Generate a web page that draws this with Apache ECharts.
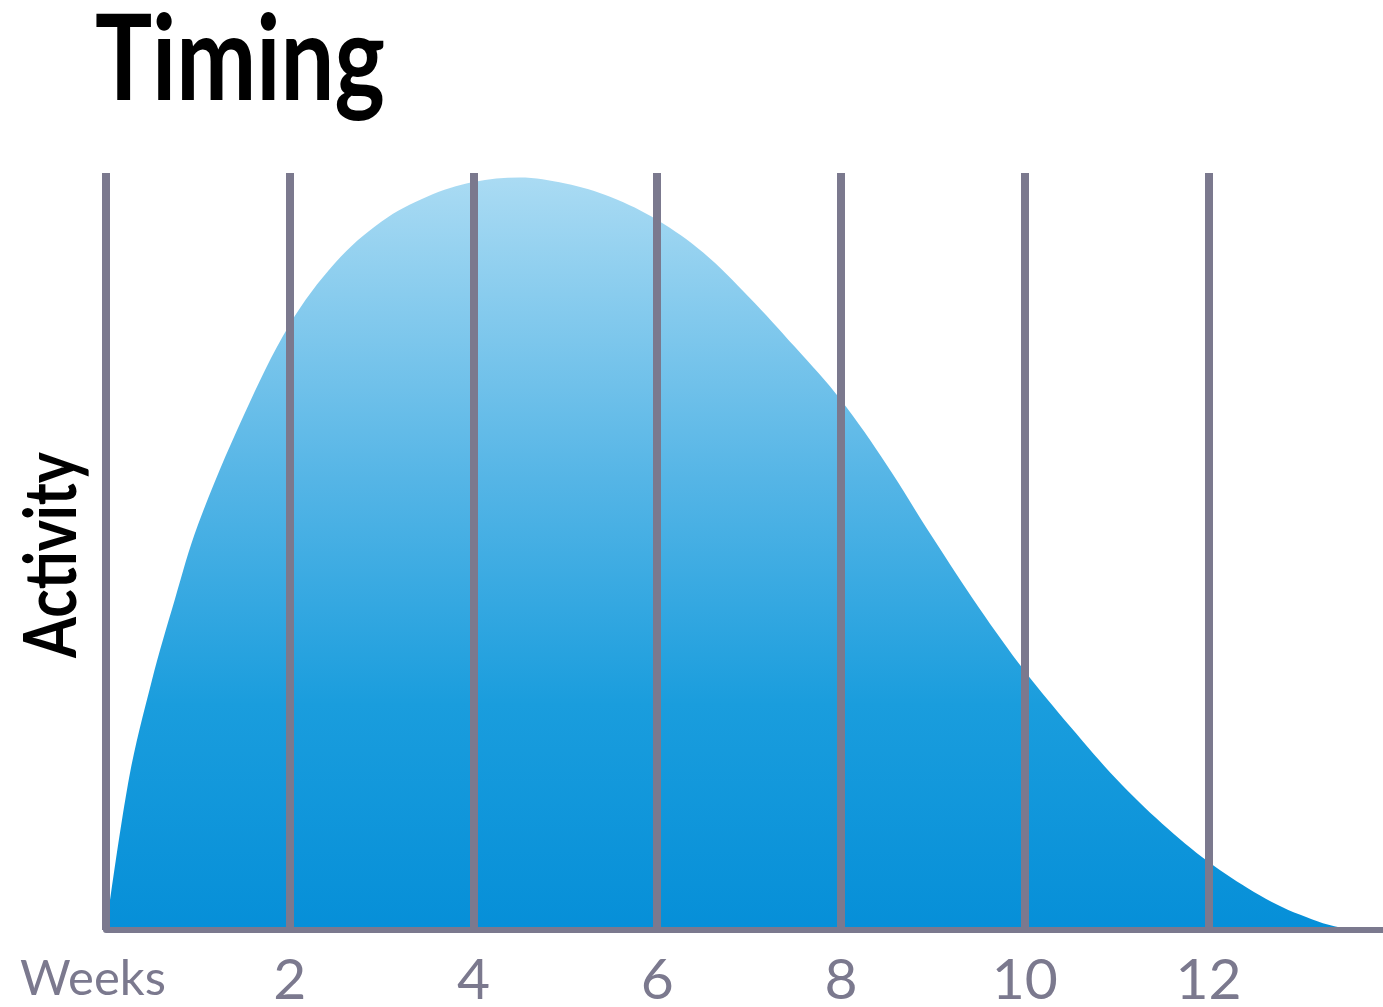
<!DOCTYPE html>
<html>
<head>
<meta charset="utf-8">
<script src="https://cdn.jsdelivr.net/npm/echarts@6/dist/echarts.min.js"></script>
<style>
html,body{margin:0;padding:0;background:#fff;}
#chart{width:1383px;height:1007px;}
</style>
</head>
<body>
<div id="chart"></div>
<script>
// Data
const titleText = 'Timing';
const yAxisName = 'Activity';
const xAxisName = 'Weeks';
const weeks    = [0, 0.25, 0.5, 0.75, 1, 1.5, 2, 2.5, 3, 3.5, 4, 4.5, 5, 5.5, 6, 6.5, 7, 7.5, 8, 8.5, 9, 9.5, 10, 10.5, 11, 11.5, 12, 12.5, 13, 13.5, 13.9];
const activity = [0, 20, 33, 43.7, 53.5, 68, 80, 88.2, 93.6, 96.9, 98.8, 99.4, 98.6, 96.8, 93.8, 89.5, 83.6, 77.0, 70.0, 61.4, 51.8, 42.6, 34.2, 26.8, 19.9, 14.0, 9.0, 5.0, 2.0, 0.2, 0];
const weekTicks = [0, 2, 4, 6, 8, 10, 12];

const gray = '#7b798e';
const chart = echarts.init(document.getElementById('chart'), null, {renderer: 'canvas'});
chart.setOption({
  backgroundColor: '#ffffff',
  animation: false,
  graphic: [
    {
      type: 'text',
      x: 95,
      y: 62,
      scaleX: 0.81,
      style: {
        text: titleText,
        fill: '#000000',
        font: 'bold 118px Lato, sans-serif',
        align: 'left',
        verticalAlign: 'middle'
      }
    },
    {
      type: 'text',
      x: 53,
      y: 555,
      rotation: Math.PI / 2,
      scaleX: 0.82,
      style: {
        text: yAxisName,
        fill: '#000000',
        font: 'bold 72px Lato, sans-serif',
        align: 'center',
        verticalAlign: 'middle'
      }
    }
  ],
  grid: {left: 106, right: 0, top: 173, bottom: 77, containLabel: false, outerBoundsMode: 'none'},
  xAxis: {
    type: 'value',
    min: 0,
    max: 13.9,
    interval: 2,
    z: 10,
    axisLine: {show: true, lineStyle: {color: gray, width: 6}},
    axisTick: {show: false},
    splitLine: {show: true, showMinLine: true, showMaxLine: false, lineStyle: {color: gray, width: 8}},
    axisLabel: {
      margin: 22,
      showMaxLabel: false,
      color: gray,
      fontFamily: 'Lato, sans-serif',
      fontSize: 57,
      formatter: function (v) {
        if (v === 0) return '{w|' + xAxisName + '}';
        return weekTicks.indexOf(v) >= 0 ? String(v) : '';
      },
      rich: {
        w: {color: gray, fontFamily: 'Lato, sans-serif', fontSize: 49, padding: [3, 26, 0, 0]}
      }
    }
  },
  yAxis: {
    type: 'value',
    min: 0,
    max: 100,
    axisLine: {show: false},
    axisTick: {show: false},
    axisLabel: {show: false},
    splitLine: {show: false}
  },
  series: [{
    type: 'line',
    data: weeks.map((w, i) => [w, activity[i]]),
    smooth: 0.35,
    symbol: 'none',
    z: 2,
    lineStyle: {width: 0},
    areaStyle: {
      opacity: 1,
      color: new echarts.graphic.LinearGradient(0, 0, 0, 1, [
        {offset: 0, color: '#aadbf3'},
        {offset: 0.4, color: '#55b5e6'},
        {offset: 0.7, color: '#1a9ddd'},
        {offset: 1, color: '#068fd8'}
      ])
    }
  }]
});
</script>
</body>
</html>
